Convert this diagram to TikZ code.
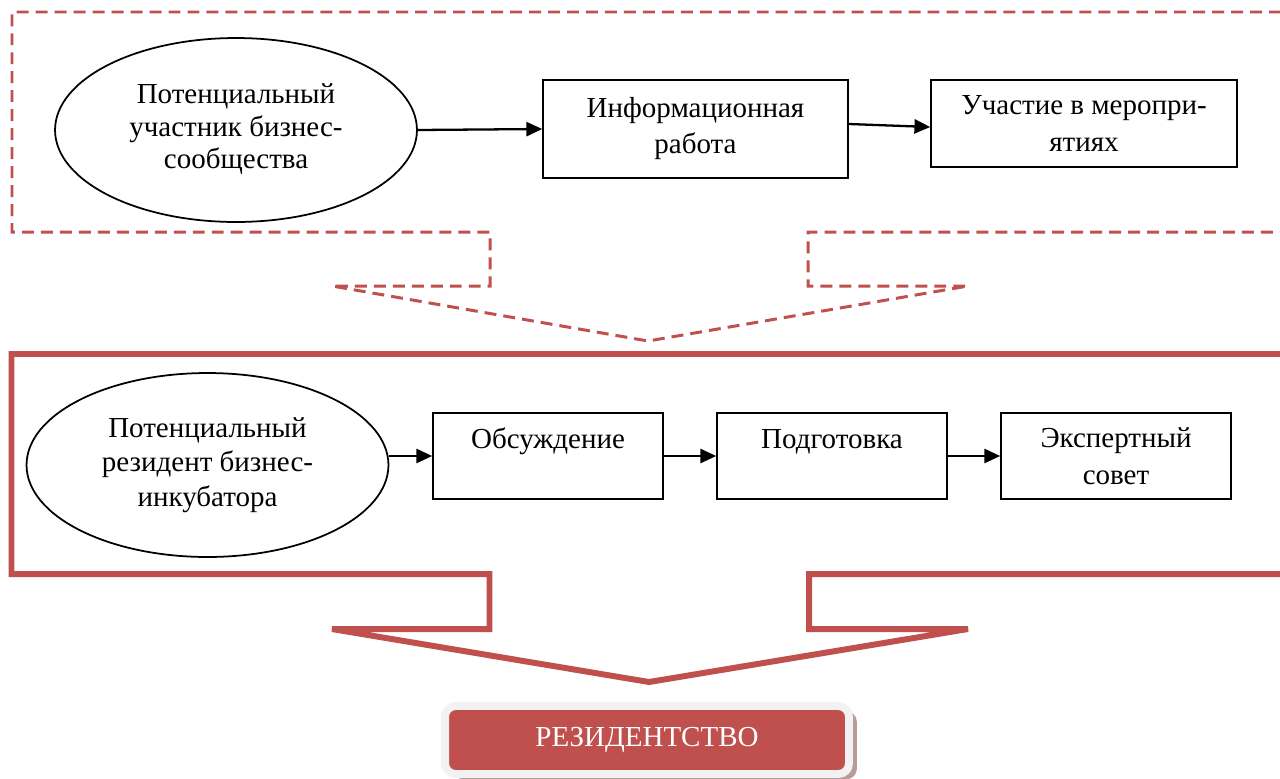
\documentclass[tikz,border=0pt]{standalone}
\usepackage{fontspec}
\setmainfont{Liberation Serif}
\usetikzlibrary{shapes.geometric,arrows.meta,calc,shadows}
\definecolor{accent}{HTML}{C0504D}
\definecolor{frameg}{HTML}{F2F2F2}
\definecolor{shad}{RGB}{185,155,155}
\begin{document}
\begin{tikzpicture}[x=0.02cm,y=-0.02cm,
  ell/.style={draw, ellipse, line width=1pt, inner sep=0pt, minimum width=7.24cm, minimum height=3.68cm, align=center},
  box/.style={draw, rectangle, line width=0.9pt, inner sep=0pt},
  arr/.style={line width=1.3pt, -{Triangle[length=9pt,width=8pt]}},
  dashframe/.style={draw=accent, line width=1.7pt, dash pattern=on 6.8pt off 4pt, line join=miter},
  solidframe/.style={draw=accent, line width=3.4pt, line join=miter},
  res/.style={fill=accent, draw=frameg, line width=4.5pt, rounded corners=6pt, minimum width=8.08cm, minimum height=1.36cm, text=white,
    drop shadow={shadow xshift=4.5pt, shadow yshift=-3pt, fill=shad, opacity=1}},
  every node/.style={font=\fontsize{16.5}{19.5}\selectfont}
]
\useasboundingbox (0,0) rectangle (1280,778);

% frames
\draw[dashframe] (1300,12) -- (12,12) -- (12,232) -- (490,232) -- (490,286) -- (332,286) -- (648,341) -- (968,286) -- (808,286) -- (808,232) -- (1300,232);
\draw[solidframe] (1300,354) -- (11.5,354) -- (11.5,574) -- (489.5,574) -- (489.5,629) -- (332,629) -- (649,682) -- (968,629) -- (809,629) -- (809,574) -- (1300,574);

% top row
\node[ell, font=\fontsize{16.5}{18.5}\selectfont, text depth=4pt] (e1) at (236,130) {Потенциальный\\участник бизнес-\\сообщества};
\node[box, align=center, minimum width=6.1cm, minimum height=1.96cm, font=\fontsize{16.5}{20.5}\selectfont] (b1) at (695.5,129) {Информационная\\работа};
\node[box, align=center, minimum width=6.12cm, minimum height=1.74cm, font=\fontsize{16.5}{20.5}\selectfont] (b2) at (1084,123.5) {Участие в меропри-\\ятиях};

\draw[arr] (e1.east) -- (b1.west);
\draw[arr] ($(b1.east)+(0,-5)$) -- ($(b2.west)+(0,3.5)$);

% bottom row
\node[ell, font=\fontsize{16.5}{19.8}\selectfont] (e2) at (207.5,465) {Потенциальный\\резидент бизнес-\\инкубатора};
\node[box, minimum width=4.6cm, minimum height=1.72cm, text height=11.5pt, text depth=20pt] (s1) at (548,456) {Обсуждение};
\node[box, minimum width=4.6cm, minimum height=1.72cm, text height=11.5pt, text depth=20pt] (s2) at (832,456) {Подготовка};
\node[box, align=center, minimum width=4.6cm, minimum height=1.72cm, font=\fontsize{16.5}{21}\selectfont] (s3) at (1116,456) {Экспертный\\совет};

\draw[arr] (e2.east |- s1.west) -- (s1.west);
\draw[arr] (s1.east) -- (s2.west);
\draw[arr] (s2.east) -- (s3.west);

% result
\node[res] (r) at (647,740) {РЕЗИДЕНТСТВО};
\end{tikzpicture}
\end{document}
